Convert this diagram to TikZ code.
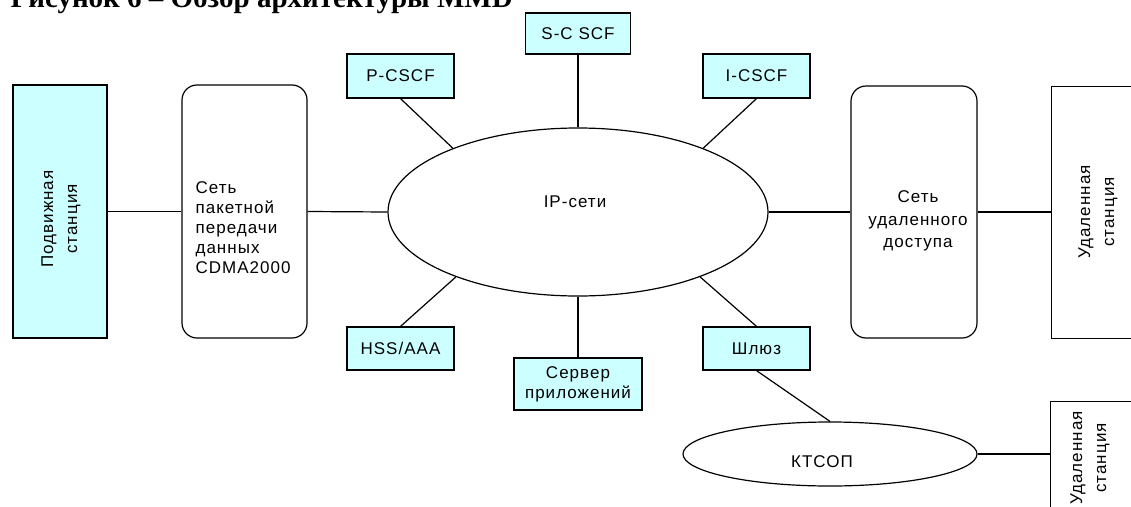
\documentclass[tikz,border=0pt]{standalone}
\usepackage{fontspec}
\setmainfont{Liberation Sans}[LetterSpace=6]
\newfontfamily\titlefont{Liberation Serif}
\usetikzlibrary{shapes.geometric}
\definecolor{boxcyan}{RGB}{204,255,255}
\tikzset{
  txt/.style={font=\fontsize{17}{20}\selectfont, inner sep=0pt},
  cbox/.style={draw, fill=boxcyan, inner sep=0pt, font=\fontsize{17}{20}\selectfont, align=center},
  rbox/.style={draw, rounded corners=15pt, inner sep=0pt},
  pbox/.style={draw, inner sep=0pt},
  oval/.style={draw, ellipse, inner sep=0pt},
  vtxt/.style={rotate=90, align=center, inner sep=0pt, font=\fontsize{17}{24}\selectfont},
}
\begin{document}
\begin{tikzpicture}[x=1pt,y=-1pt, line width=1.2pt]
\useasboundingbox (0,0) rectangle (1131,506);
\clip (0,0) rectangle (1131,506);

% title (cut off at the top, as in the reference)
\node[anchor=base west, inner sep=0pt, font=\titlefont\bfseries\fontsize{29}{30}\selectfont] (title) at (10,8) {Рисунок 6 – Обзор архитектуры MMD};

% left side
\node[pbox, fill=boxcyan, minimum width=94pt, minimum height=253pt] (ms) at (60,211.5) {};
\node[vtxt] (msT) at (61,219) {Подвижная\\станция};

\node[rbox, minimum width=125pt, minimum height=253pt] (cdma) at (244.5,211.5) {};
\node[txt, anchor=west, align=left] (cdmaT) at (195,228) {Сеть\\пакетной\\передачи\\данных\\CDMA2000};

% IP core
\node[oval, minimum width=380pt, minimum height=168pt] (ip) at (578,212) {};
\node[txt] (ipT) at (575,202) {IP-сети};

% CSCF boxes
\node[cbox, minimum width=105pt, minimum height=41pt] (scscf) at (578,33.5) {S-C SCF};
\node[cbox, minimum width=107pt, minimum height=44pt] (pcscf) at (400.5,76) {P-CSCF};
\node[cbox, minimum width=107pt, minimum height=44pt] (icscf) at (756.5,76) {I-CSCF};

% lower boxes
\node[cbox, minimum width=107pt, minimum height=43pt] (hss) at (400.5,348.5) {HSS/AAA};
\node[cbox, minimum width=128pt, minimum height=52pt] (srv) at (578,384) {Сервер\\приложений};
\node[cbox, minimum width=107pt, minimum height=43pt] (gw) at (756.5,348.5) {Шлюз};

% right side
\node[rbox, minimum width=126pt, minimum height=252pt] (rad) at (914,212) {};
\node[txt, align=center, font=\fontsize{17}{22.5}\selectfont] (radT) at (918,221) {Сеть\\удаленного\\доступа};

\node[pbox, minimum width=100pt, minimum height=252pt, anchor=north west] (rs1) at (1051,86) {};
\node[vtxt] (rs1T) at (1098,212) {Удаленная\\станция};

% PSTN
\node[oval, minimum width=294pt, minimum height=64pt] (pstn) at (830,454) {};
\node[txt] (pstnT) at (822,462) {КТСОП};
\node[pbox, minimum width=100pt, minimum height=130pt, anchor=north west] (rs2) at (1050,401) {};
\node[vtxt] (rs2T) at (1090,458) {Удаленная\\станция};

% connectors
\draw (ms.east) -- (cdma.west);
\draw (cdma.east) -- (ip.west);
\draw (ip.east) -- (rad.west);
\draw (rad.east) -- (rad.east -| rs1.west);
\draw (scscf.south) -- (ip.north);
\draw (pcscf.south) -- (ip.153);
\draw (icscf.south) -- (ip.27);
\draw (hss.north) -- (ip.208);
\draw (gw.north) -- (ip.332);
\draw (srv.north) -- (ip.south);
\draw (gw.south) -- (pstn.north);
\draw (pstn.east) -- (pstn.east -| rs2.west);
\end{tikzpicture}
\end{document}
